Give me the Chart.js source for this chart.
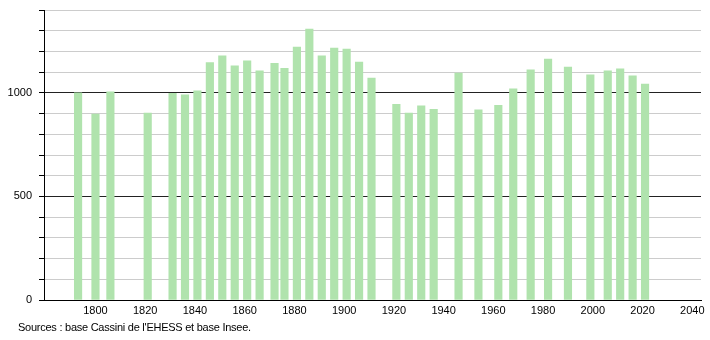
<!DOCTYPE html>
<html>
<head>
<meta charset="utf-8">
<script src="https://cdn.jsdelivr.net/npm/chart.js@4.4.1/dist/chart.umd.min.js"></script>
<style>
  body { margin: 0; background: #fff; }
  #wrap { position: relative; width: 710px; height: 340px; }
  #source {
    position: absolute; left: 18px; top: 321px;
    font-family: "Liberation Sans", Arial, sans-serif; font-size: 11px; color: #000;
    letter-spacing: -0.25px;
  }
</style>
</head>
<body>
<div id="wrap">
  <canvas id="graphique" width="710" height="340"></canvas>
  <div id="source">Sources : base Cassini de l'EHESS et base Insee.</div>
</div>
<script>
// années de recensement
const annees = [1793, 1800, 1806, 1821, 1831, 1836, 1841, 1846, 1851, 1856, 1861, 1866, 1872, 1876,
  1881, 1886, 1891, 1896, 1901, 1906, 1911, 1921, 1926, 1931, 1936, 1946, 1954, 1962, 1968,
  1975, 1982, 1990, 1999, 2006, 2011, 2016, 2021];
// population
const habitants = [1000, 897, 1005, 902, 998, 990, 1010, 1146, 1179, 1130, 1155, 1106, 1143, 1119,
  1221, 1308, 1179, 1216, 1211, 1148, 1071, 945, 902, 937, 921, 1095, 918, 940, 1019,
  1111, 1163, 1124, 1087, 1106, 1116, 1082, 1042];
const xTicks = [1800, 1820, 1840, 1860, 1880, 1900, 1920, 1940, 1960, 1980, 2000, 2020, 2040];
const yLabels = [0, 500, 1000];

const ctx = document.getElementById('graphique');
const police = { family: '"Liberation Sans", Arial, sans-serif', size: 11 };

const grafica = new Chart(ctx, {
  type: 'bar',
  data: {
    datasets: [{
      data: annees.map((a, i) => ({ x: a, y: habitants[i] })),
      backgroundColor: '#b0e3ad',
      borderWidth: 0,
      barThickness: 7.5
    }]
  },
  options: {
    responsive: false,
    animation: false,
    devicePixelRatio: 1,
    layout: { padding: { top: 10, right: 9, left: 0, bottom: 0 } },
    plugins: { legend: { display: false }, tooltip: { enabled: false } },
    scales: {
      x: {
        type: 'linear',
        offset: false,
        min: 1779.3,
        max: 2043.5,
        afterBuildTicks: s => { s.ticks = xTicks.map(v => ({ value: v })); },
        afterFit: s => { s.height = 40; s.paddingLeft = 0; s.paddingRight = 0; },
        grid: { display: false, drawTicks: false },
        border: { display: true, color: '#000', width: 1 },
        ticks: {
          padding: 4,
          color: '#000',
          font: police,
          maxRotation: 0,
          autoSkip: false,
          callback: v => String(v)
        }
      },
      y: {
        min: 0,
        max: 1400,
        afterFit: s => { s.width = 44; s.paddingTop = 0; s.paddingBottom = 0; },
        border: { display: true, color: '#000', width: 1 },
        grid: {
          color: c => (c.tick.value === 500 || c.tick.value === 1000) ? '#222' : '#cccccc',
          tickColor: '#000',
          tickLength: 5,
          lineWidth: 1
        },
        ticks: {
          stepSize: 100,
          padding: 7,
          color: '#000',
          font: police,
          callback: v => yLabels.includes(v) ? String(v) : ''
        }
      }
    }
  }
});
</script>
</body>
</html>
